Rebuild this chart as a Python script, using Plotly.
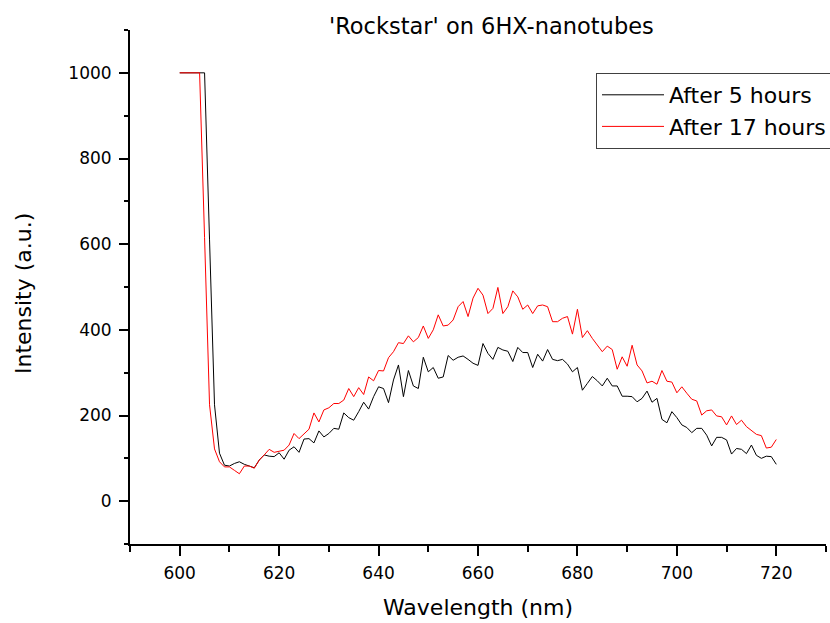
import plotly.graph_objects as go

wavelength = list(range(600, 721))

after_5_hours = [
    1000, 1000, 1000, 1000, 1000, 1000, 610, 225, 112, 84,
    82, 88, 92, 86, 82, 78, 96, 108, 105, 104,
    113, 98, 119, 127, 114, 145, 146, 136, 164, 150,
    158, 170, 168, 206, 195, 189, 209, 231, 215, 244,
    267, 263, 230, 283, 318, 244, 305, 269, 263, 336,
    302, 312, 287, 290, 340, 329, 336, 339, 331, 322,
    317, 368, 345, 331, 359, 353, 350, 326, 359, 347,
    347, 312, 343, 327, 354, 331, 328, 331, 320, 302,
    312, 259, 275, 291, 281, 269, 287, 269, 269, 245,
    245, 244, 232, 240, 257, 231, 240, 191, 183, 209,
    195, 178, 172, 160, 170, 170, 154, 129, 149, 149,
    143, 110, 123, 121, 111, 131, 107, 100, 105, 104,
    86,
]

after_17_hours = [
    1000, 1000, 1000, 1000, 1000, 615, 225, 122, 92, 80,
    80, 72, 64, 82, 82, 77, 96, 108, 121, 114,
    117, 119, 131, 158, 146, 158, 168, 206, 185, 213,
    218, 228, 228, 236, 263, 244, 265, 249, 290, 281,
    305, 304, 335, 349, 370, 368, 386, 372, 382, 409,
    380, 400, 435, 409, 411, 423, 454, 466, 431, 474,
    497, 481, 438, 450, 499, 438, 454, 491, 477, 448,
    458, 438, 456, 458, 454, 419, 419, 427, 431, 390,
    448, 382, 398, 380, 364, 349, 362, 354, 308, 337,
    315, 364, 318, 304, 276, 280, 273, 305, 280, 278,
    253, 267, 252, 238, 234, 201, 211, 213, 199, 197,
    178, 199, 179, 189, 174, 164, 156, 153, 124, 126,
    144,
]

series_names = ["After 5 hours", "After 17 hours"]
series_colors = ["#000000", "#ff0000"]

FONT = "DejaVu Sans"

fig = go.Figure()
for name, vals, col in zip(series_names, [after_5_hours, after_17_hours], series_colors):
    fig.add_trace(go.Scatter(
        x=wavelength[:len(vals)], y=vals, mode="lines", name=name,
        line=dict(color=col, width=1),
    ))

W, H = 830, 623
L, R, T, B = 130, 4, 30, 79
pw, ph = W - L - R, H - T - B

def px_x(x):
    return (x - L) / pw

def px_y(y):
    return (H - B - y) / ph

axis_common = dict(
    showline=True, linecolor="black", linewidth=2,
    ticks="outside", tickcolor="black", tickwidth=1.5,
    showgrid=False, zeroline=False,
    tickfont=dict(family=FONT, size=17, color="black"),
    mirror=False,
)

fig.update_layout(
    width=W, height=H,
    margin=dict(l=L, r=R, t=T, b=B, autoexpand=False),
    paper_bgcolor="white", plot_bgcolor="white",
    font=dict(family=FONT, color="black"),
    showlegend=True,
    legend=dict(
        x=px_x(596), y=px_y(73), xanchor="left", yanchor="top",
        bordercolor="#404040", borderwidth=1, bgcolor="rgba(255,255,255,0)",
        font=dict(family=FONT, size=22, color="black"),
        itemwidth=62, tracegroupgap=0,
    ),
    xaxis=dict(
        range=[590, 730], tick0=600, dtick=20, ticklen=10,
        ticklabelstandoff=3,
        minor=dict(dtick=10, tick0=590, ticks="outside", ticklen=6, tickcolor="black", tickwidth=1.5),
        **axis_common,
    ),
    yaxis=dict(
        range=[-100, 1100], tick0=0, dtick=200, ticklen=9,
        ticklabelstandoff=4,
        minor=dict(dtick=100, tick0=-100, ticks="outside", ticklen=4, tickcolor="black", tickwidth=1.5),
        **axis_common,
    ),
    annotations=[
        dict(text="'Rockstar' on 6HX-nanotubes", xref="paper", yref="paper",
             x=px_x(491), y=px_y(26), xanchor="center", yanchor="middle",
             showarrow=False, font=dict(family=FONT, size=22.5, color="black")),
        dict(text="Wavelength (nm)", xref="paper", yref="paper",
             x=px_x(478), y=px_y(607), xanchor="center", yanchor="middle",
             showarrow=False, font=dict(family=FONT, size=22, color="black")),
        dict(text="Intensity (a.u.)", xref="paper", yref="paper",
             x=px_x(23), y=px_y(294), xanchor="center", yanchor="middle",
             textangle=-90,
             showarrow=False, font=dict(family=FONT, size=22, color="black")),
    ],
)

fig.write_html("out.html")
